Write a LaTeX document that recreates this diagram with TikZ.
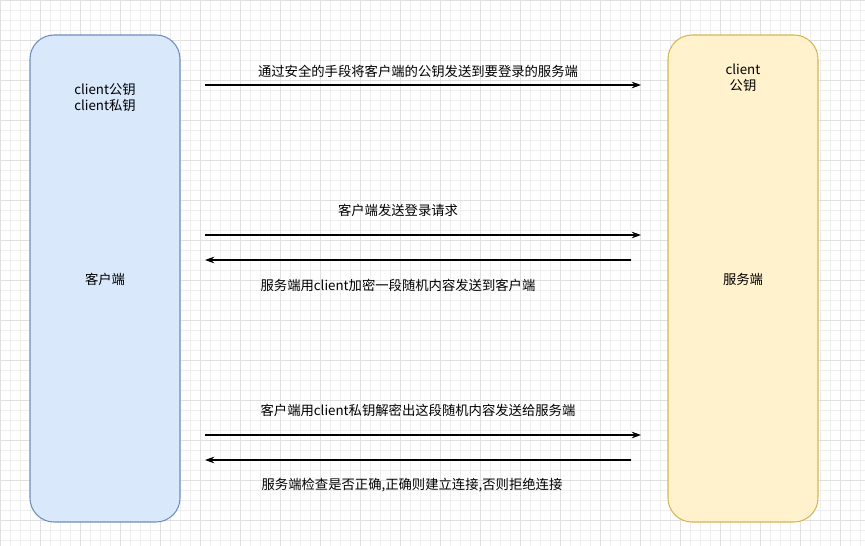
\documentclass[tikz,border=0pt]{standalone}
\usepackage{fontspec}
\setmainfont{Noto Sans CJK SC}
\usetikzlibrary{arrows.meta}
\definecolor{lbfill}{HTML}{DAE8FC}\definecolor{lbline}{HTML}{6C8EBF}
\definecolor{ryfill}{HTML}{FFF2CC}\definecolor{ryline}{HTML}{D6B656}
\definecolor{gridc}{HTML}{EEEEEE}\definecolor{gridm}{HTML}{E0E0E0}
\tikzset{
  party/.style={draw, rounded corners=18pt, minimum width=150*0.75pt, minimum height=487*0.75pt, line width=0.8pt},
  msg/.style={-{Stealth[length=7pt,width=5pt]}, line width=0.8pt},
  lbl/.style={font=\fontsize{10}{12}\selectfont, align=center},
}
\begin{document}
\begin{tikzpicture}[x=0.75pt,y=-0.75pt]
\useasboundingbox (0,0) rectangle (865,546);
\fill[white] (0,0) rectangle (865,546);
\foreach \i in {0,10,...,860} \draw[gridc,line width=0.4pt] (\i,0) -- (\i,546);
\foreach \i in {0,10,...,540} \draw[gridc,line width=0.4pt] (0,\i) -- (865,\i);
\foreach \i in {0,40,...,860} \draw[gridm,line width=0.5pt] (\i,0) -- (\i,546);
\foreach \i in {0,40,...,540} \draw[gridm,line width=0.5pt] (0,\i) -- (865,\i);
\node[party, fill=lbfill, draw=lbline] (c) at (105,278.5) {};
\node[party, fill=ryfill, draw=ryline] (s) at (743,278.5) {};
\node[lbl] (ck) at (105,97) {client公钥\\client私钥};
\node[lbl] (ct) at (105,279) {客户端};
\node[lbl] (sk) at (743,78) {client\\公钥};
\node[lbl] (st) at (743,279) {服务端};
\coordinate (a1) at (205,85); \coordinate (b1) at (641,85);
\coordinate (a2) at (205,235); \coordinate (b2) at (641,235);
\coordinate (a3) at (205,260); \coordinate (b3) at (631,260);
\coordinate (a4) at (205,435); \coordinate (b4) at (641,435);
\coordinate (a5) at (205,460); \coordinate (b5) at (631,460);
\draw[msg] (a1) -- (b1); \draw[msg] (a2) -- (b2); \draw[msg] (b3) -- (a3);
\draw[msg] (a4) -- (b4); \draw[msg] (b5) -- (a5);
\node[lbl] (l1) at (418,71) {通过安全的手段将客户端的公钥发送到要登录的服务端};
\node[lbl] (l2) at (398,210) {客户端发送登录请求};
\node[lbl] (l3) at (398,285) {服务端用client加密一段随机内容发送到客户端};
\node[lbl] (l4) at (418,410) {客户端用client私钥解密出这段随机内容发送给服务端};
\node[lbl] (l5) at (412,485) {服务端检查是否正确,正确则建立连接,否则拒绝连接};
\end{tikzpicture}
\end{document}
